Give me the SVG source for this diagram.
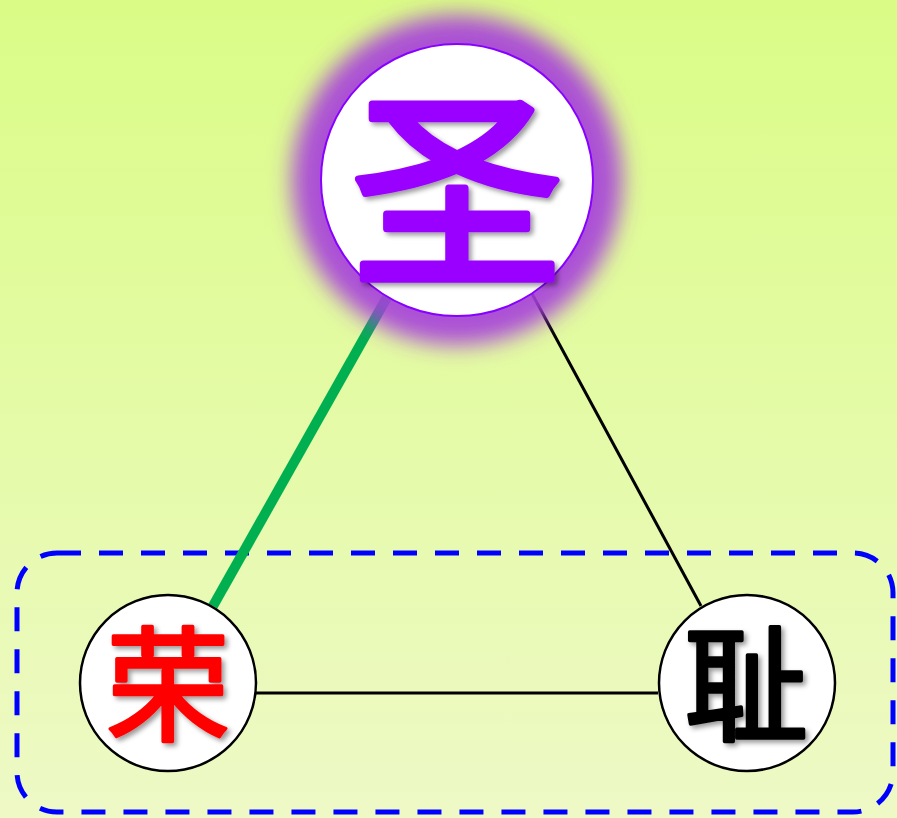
<svg xmlns="http://www.w3.org/2000/svg" width="897" height="818" viewBox="0 0 897 818">
  <defs>
    <linearGradient id="bg" x1="0" y1="0" x2="0" y2="1">
      <stop offset="0" stop-color="#dafc86"/>
      <stop offset="1" stop-color="#eef9c6"/>
    </linearGradient>
    <filter id="glow" x="-50%" y="-50%" width="200%" height="200%">
      <feGaussianBlur stdDeviation="11"/>
    </filter>
    <filter id="shadow" x="-20%" y="-20%" width="140%" height="140%">
      <feDropShadow dx="3" dy="3" stdDeviation="2.5" flood-color="#000" flood-opacity="0.4"/>
    </filter>
  </defs>
  <style>
    .node { fill: #ffffff; stroke: #000; stroke-width: 2.5; }
    .txt { font-family: "Noto Sans CJK SC", "Noto Sans CJK JP", sans-serif; font-weight: 400; text-anchor: middle; dominant-baseline: central; filter: url(#shadow); stroke-linejoin: round; stroke-linecap: round; }
    .conn { fill: none; }
  </style>
  <rect x="0" y="0" width="897" height="818" fill="url(#bg)"/>
  <rect x="17" y="553" width="876" height="259" rx="40" ry="40" fill="none" stroke="#0000ff" stroke-width="5" stroke-dasharray="24 18"/>
  <g id="connectors" class="conn">
    <line x1="213" y1="606" x2="390" y2="292" stroke="#00b050" stroke-width="10"/>
    <line x1="530" y1="290" x2="701" y2="606" stroke="#000" stroke-width="3"/>
    <line x1="256" y1="693" x2="658" y2="693" stroke="#000" stroke-width="3"/>
  </g>
  <g id="node-sheng">
    <circle cx="457" cy="180" r="165" fill="#a63ddc" fill-opacity="0.9" filter="url(#glow)"/>
    <circle cx="457" cy="180" r="136" fill="#ffffff" stroke="#8800ff" stroke-width="2"/>
    <text class="txt" x="457" y="177" font-size="212" fill="#9900ff" stroke="#9900ff" stroke-width="7">圣</text>
  </g>
  <g id="node-rong">
    <circle class="node" cx="168" cy="683" r="88"/>
    <text class="txt" x="168" y="677" font-size="124" fill="#ff0000" stroke="#ff0000" stroke-width="3.5">荣</text>
  </g>
  <g id="node-chi">
    <circle class="node" cx="747" cy="683" r="88"/>
    <text class="txt" x="746" y="677" font-size="124" fill="#000000" stroke="#000000" stroke-width="3.5">耻</text>
  </g>
</svg>
